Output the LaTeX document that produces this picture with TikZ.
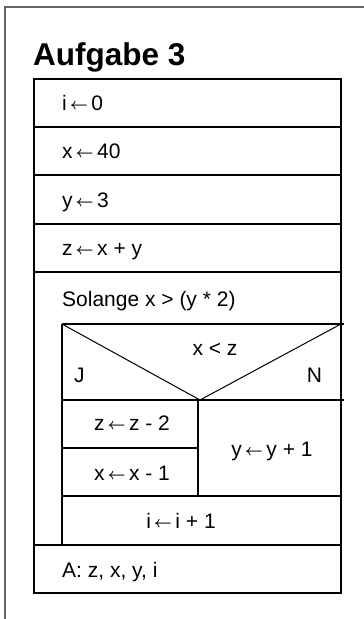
\documentclass[tikz,border=0pt]{standalone}
\usepackage{fontspec}
\setmainfont{Liberation Sans}
\usepackage{tikz}
\usepackage{xcolor}
\usepackage{graphicx}

\newcommand{\lar}{\hspace{3pt}\raisebox{0.8pt}{\resizebox{18pt}{!}{\boldmath$\leftarrow$}}\hspace{3.5pt}}

\begin{document}
\begin{tikzpicture}[x=1pt,y=-1pt,
  rowline/.style={line width=2.4pt},
  innerline/.style={line width=1.3pt},
  txt/.style={font=\fontsize{21}{24}\selectfont,inner sep=0pt,anchor=base west},
  ctr/.style={font=\fontsize{21}{24}\selectfont,inner sep=0pt,anchor=base}]
\useasboundingbox (0,0) rectangle (364,619);
\draw[black!60,line width=1.6pt] (5,619) -- (5,7) -- (364,7);
\node[font=\fontsize{31.5}{34}\selectfont\bfseries,inner sep=0pt,anchor=base west] (title) at (33,65) {Aufgabe 3};
% struktogramm
\draw[rowline] (34,79) rectangle (341,593);
\foreach \yy in {127,175,224,272,545}
  \draw[rowline] (34,\yy) -- (341,\yy);
\draw[rowline] (62,324) -- (62,545);
\draw[innerline] (62,324) -- (344,324);
\draw[innerline] (62,400) -- (344,400);
\draw[line width=1pt] (62,324) -- (200,400) -- (341,324);
\draw[rowline] (198,400) -- (198,496);
\draw[innerline] (62,448) -- (198,448);
\draw[rowline] (62,496) -- (341,496);
% texte
\node[txt] (ia) at (62,110) {i\lar0};
\node[txt] (xa) at (62,158) {x\lar40};
\node[txt] (ya) at (62,207) {y\lar3};
\node[txt] (za) at (62,255) {z\lar x + y};
\node[txt] (loop) at (62,306) {Solange x > (y * 2)};
\node[ctr] (cond) at (215,355) {x < z};
\node[txt] (yes) at (74,382) {J};
\node[ctr] (no) at (314.5,382) {N};
\node[ctr] (zb) at (132,430) {z\lar z - 2};
\node[ctr] (xb) at (132,480) {x\lar x - 1};
\node[ctr] (yb) at (272,456) {y\lar y + 1};
\node[ctr] (ib) at (181,528) {i\lar i + 1};
\node[txt] (out) at (62,577) {A: z, x, y, i};
\end{tikzpicture}
\end{document}
